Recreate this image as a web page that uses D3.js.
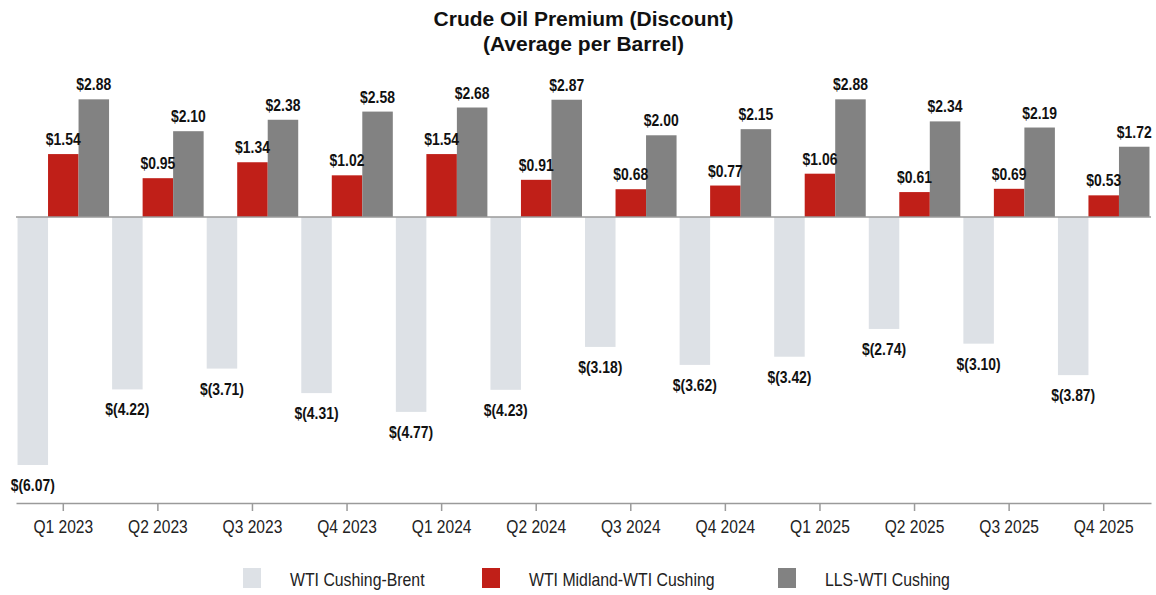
<!DOCTYPE html>
<html>
<head>
<meta charset="utf-8">
<script src="https://cdn.jsdelivr.net/npm/d3@7"></script>
<style>
  body { margin: 0; background: #fff; }
  svg text { font-family: "Liberation Sans", Arial, sans-serif; fill: #111; }
  .title { font-size: 21px; font-weight: bold; }
  .val { font-size: 17px; font-weight: bold; }
  .x-axis text { font-size: 19px; fill: #222; }
  .x-axis path, .x-axis line { stroke: #9a9a9a; stroke-width: 1.5px; }
  .legend text { font-size: 18px; fill: #222; }
</style>
</head>
<body>
<svg id="chart" width="1156" height="595"></svg>
<script>
var categories = ['Q1 2023','Q2 2023','Q3 2023','Q4 2023','Q1 2024','Q2 2024','Q3 2024','Q4 2024','Q1 2025','Q2 2025','Q3 2025','Q4 2025'];
var seriesNames = ['WTI Cushing-Brent','WTI Midland-WTI Cushing','LLS-WTI Cushing'];
var cushingBrent = [-6.07,-4.22,-3.71,-4.31,-4.77,-4.23,-3.18,-3.62,-3.42,-2.74,-3.10,-3.87];
var midlandCushing = [1.54,0.95,1.34,1.02,1.54,0.91,0.68,0.77,1.06,0.61,0.69,0.53];
var llsCushing = [2.88,2.10,2.38,2.58,2.68,2.87,2.00,2.15,2.88,2.34,2.19,1.72];
var colors = ['#dde1e6','#c01f18','#828282'];

var seriesValues = [cushingBrent, midlandCushing, llsCushing];

var svg = d3.select('#chart');
var frame = { left: 16, right: 1151, top: 74, bottom: 503 };
var narrow = 0.82; // no narrow font installed, squeeze text instead

var x0 = d3.scaleBand().domain(categories).range([frame.left, frame.right]).padding(0);
var x1 = d3.scaleBand().domain(seriesNames).range([0, x0.bandwidth()]).paddingInner(0).paddingOuter(0.05);
var y = d3.scaleLinear().domain([-7, 3.5]).range([frame.bottom, frame.top]);

var fmt = v => v < 0 ? '$(' + Math.abs(v).toFixed(2) + ')' : '$' + v.toFixed(2);

function squeezed(parent, cls, x, yy, txt, s, anchor) {
  return parent.append('text').attr('class', cls)
    .attr('transform', 'translate(' + x + ',' + yy + ') scale(' + s + ',1)')
    .attr('text-anchor', anchor || 'middle')
    .text(txt);
}

// title, centred over the plot
var midX = (frame.left + frame.right) / 2;
squeezed(svg, 'title', midX, 26, 'Crude Oil Premium (Discount)', 1);
squeezed(svg, 'title', midX, 51, '(Average per Barrel)', 1);

// bars
var items = [];
categories.forEach((cat, i) => seriesNames.forEach((s, j) =>
  items.push({ cat: cat, s: s, j: j, v: seriesValues[j][i] })));

svg.append('g').selectAll('rect').data(items).join('rect')
  .attr('x', d => x0(d.cat) + x1(d.s))
  .attr('width', x1.bandwidth())
  .attr('y', d => Math.min(y(d.v), y(0)))
  .attr('height', d => Math.abs(y(d.v) - y(0)))
  .attr('fill', d => colors[d.j]);

// zero line
svg.append('line')
  .attr('x1', frame.left).attr('x2', frame.right)
  .attr('y1', y(0)).attr('y2', y(0))
  .attr('stroke', '#9a9a9a').attr('stroke-width', 1.5);

// value labels on top of everything
var labels = svg.append('g');
items.forEach(d => {
  squeezed(labels, 'val', x0(d.cat) + x1(d.s) + x1.bandwidth() / 2,
    d.v < 0 ? y(d.v) + 26 : y(d.v) - 9, fmt(d.v), narrow);
});

// bottom axis
svg.append('g').attr('class','x-axis')
  .attr('transform','translate(0,' + frame.bottom + ')')
  .call(d3.axisBottom(x0).tickSize(8).tickSizeOuter(0).tickPadding(9))
  .selectAll('text').attr('transform', 'scale(' + narrow + ',1)');

// legend
var legendX = [243, 482, 778];
var legend = svg.append('g').attr('class','legend').selectAll('g').data(seriesNames).join('g')
  .attr('transform', (d, i) => 'translate(' + legendX[i] + ',568)');
legend.append('rect').attr('width', 18).attr('height', 20).attr('fill', (d, i) => colors[i]);
legend.append('text')
  .attr('transform', 'translate(47,17.5) scale(0.88,1)')
  .text(d => d);
</script>
</body>
</html>
